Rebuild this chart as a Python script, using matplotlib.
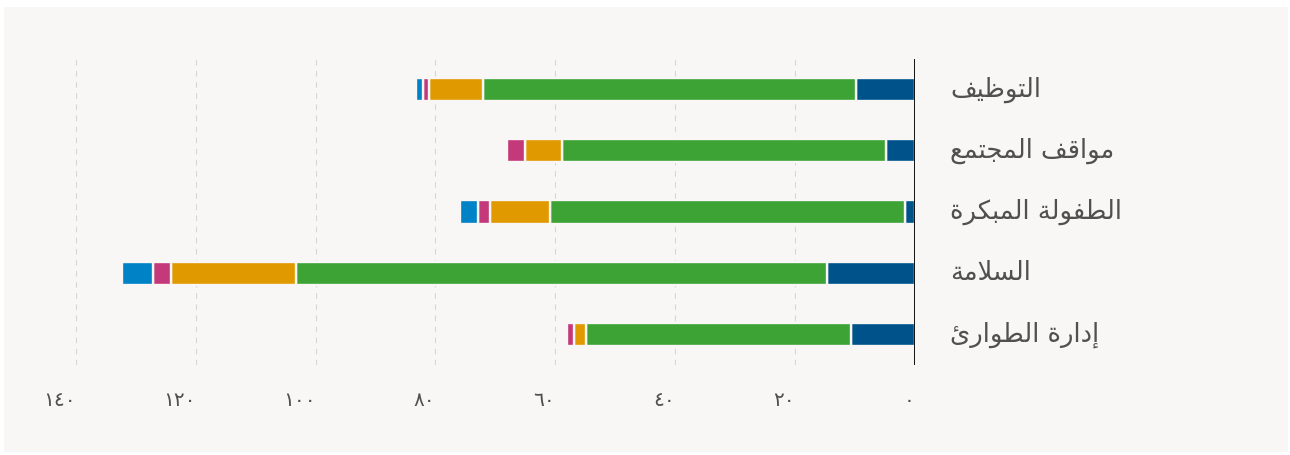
import matplotlib
matplotlib.use("Agg")
import matplotlib.pyplot as plt
import matplotlib.transforms as mtransforms
import numpy as np

# ---------------- data ----------------
categories = ['التوظيف', 'مواقف المجتمع', 'الطفولة المبكرة', 'السلامة', 'إدارة الطوارئ']
series_dark_blue = [9.8, 4.8, 1.6, 14.7, 10.7]
series_green = [62.3, 54.1, 59.3, 88.5, 44.2]
series_orange = [9.0, 6.1, 9.9, 21.0, 2.0]
series_pink = [1.0, 3.0, 2.0, 3.0, 1.1]
series_light_blue = [1.1, 0.0, 3.1, 5.1, 0.0]
tick_values = [0, 20, 40, 60, 80, 100, 120, 140]

colors = ['#00538a', '#3da335', '#e09a00', '#c4397a', '#0083c6']
BG = '#f8f7f5'
TXT = '#505050'

# ---------------- minimal Arabic shaping (matplotlib has no shaping) ----------------
FORMS = {
    'ء': ('\uFE80', None, None, None),
    'آ': ('\uFE81', '\uFE82', None, None),
    'أ': ('\uFE83', '\uFE84', None, None),
    'ؤ': ('\uFE85', '\uFE86', None, None),
    'إ': ('\uFE87', '\uFE88', None, None),
    'ئ': ('\uFE89', '\uFE8A', '\uFE8B', '\uFE8C'),
    'ا': ('\uFE8D', '\uFE8E', None, None),
    'ب': ('\uFE8F', '\uFE90', '\uFE91', '\uFE92'),
    'ة': ('\uFE93', '\uFE94', None, None),
    'ت': ('\uFE95', '\uFE96', '\uFE97', '\uFE98'),
    'ج': ('\uFE9D', '\uFE9E', '\uFE9F', '\uFEA0'),
    'د': ('\uFEA9', '\uFEAA', None, None),
    'ر': ('\uFEAD', '\uFEAE', None, None),
    'س': ('\uFEB1', '\uFEB2', '\uFEB3', '\uFEB4'),
    'ط': ('\uFEC1', '\uFEC2', '\uFEC3', '\uFEC4'),
    'ظ': ('\uFEC5', '\uFEC6', '\uFEC7', '\uFEC8'),
    'ع': ('\uFEC9', '\uFECA', '\uFECB', '\uFECC'),
    'ف': ('\uFED1', '\uFED2', '\uFED3', '\uFED4'),
    'ق': ('\uFED5', '\uFED6', '\uFED7', '\uFED8'),
    'ك': ('\uFED9', '\uFEDA', '\uFEDB', '\uFEDC'),
    'ل': ('\uFEDD', '\uFEDE', '\uFEDF', '\uFEE0'),
    'م': ('\uFEE1', '\uFEE2', '\uFEE3', '\uFEE4'),
    'و': ('\uFEED', '\uFEEE', None, None),
    'ي': ('\uFEF1', '\uFEF2', '\uFEF3', '\uFEF4'),
}
LAM_ALEF = {'ا': ('\uFEFB', '\uFEFC'), 'أ': ('\uFEF7', '\uFEF8'),
            'إ': ('\uFEF9', '\uFEFA'), 'آ': ('\uFEF5', '\uFEF6')}


def shape(s):
    toks = []
    i = 0
    while i < len(s):
        c = s[i]
        if c == 'ل' and i + 1 < len(s) and s[i + 1] in LAM_ALEF:
            toks.append(('LA', s[i + 1]))
            i += 2
        else:
            toks.append(('C', c))
            i += 1

    def joins_left(t):
        return t[0] == 'C' and t[1] in FORMS and FORMS[t[1]][2] is not None

    def is_ar(t):
        return t[0] == 'LA' or t[1] in FORMS

    out = []
    for k, (kind, c) in enumerate(toks):
        prev = toks[k - 1] if k > 0 else None
        nxt = toks[k + 1] if k + 1 < len(toks) else None
        pj = prev is not None and joins_left(prev)
        if kind == 'LA':
            out.append(LAM_ALEF[c][1 if pj else 0])
            continue
        if c not in FORMS:
            out.append(c)
            continue
        f = FORMS[c]
        if f[1] is None:
            pj = False
        nj = f[2] is not None and nxt is not None and is_ar(nxt)
        if pj and nj:
            out.append(f[3])
        elif pj:
            out.append(f[1])
        elif nj:
            out.append(f[2])
        else:
            out.append(f[0])
    return ''.join(reversed(out))


AR_DIGITS = str.maketrans('0123456789', '٠١٢٣٤٥٦٧٨٩')

# ---------------- figure ----------------
plt.rcParams['font.family'] = ['DejaVu Sans']
fig = plt.figure(figsize=(12.9, 4.55), dpi=100, facecolor='white')
fig.patches.append(plt.Rectangle((4 / 1290, 3 / 455), 1284 / 1290, 445 / 455,
                                 transform=fig.transFigure, facecolor=BG,
                                 edgecolor='none', zorder=-10))

ax = fig.add_axes([40 / 1290, 90 / 455, 874.6 / 1290, 306 / 455])
ax.patch.set_alpha(0)

y = np.arange(len(categories))
stack = [series_dark_blue, series_green, series_orange, series_pink, series_light_blue]
left = np.zeros(len(categories))
for vals, col in zip(stack, colors):
    v = np.array(vals, dtype=float)
    mask = v > 0
    ax.barh(y[mask], v[mask], left=left[mask], height=0.38, color=col,
            edgecolor=BG, linewidth=1.7, zorder=3)
    left += v

ax.set_xlim(146, 0)
ax.set_ylim(len(categories) - 0.5, -0.5)

for t in tick_values:
    if t != 0:
        ax.axvline(t, color='#d6d6d6', lw=0.8, linestyle=(0, (5, 5)), zorder=1)
ax.axvline(0, color='#111111', lw=1.4, zorder=5)

ax.set_xticks(tick_values)
ax.set_xticklabels([])
ax.tick_params(axis='x', length=0)
ax.set_yticks([])
for s in ax.spines.values():
    s.set_visible(False)

# x tick labels (Arabic-Indic digits), right-aligned at the tick
xt = mtransforms.blended_transform_factory(ax.transData, fig.transFigure)
for t in tick_values:
    ax.text(t, (455 - 401) / 455, str(t).translate(AR_DIGITS), transform=xt,
            ha='right', va='center', fontsize=14.5, color=TXT)

# category labels on the right
lt = mtransforms.blended_transform_factory(fig.transFigure, ax.transData)
for yi, cat in zip(y, categories):
    ax.text(950 / 1290, yi, shape(cat), transform=lt,
            ha='left', va='center', fontsize=18.5, color=TXT)

fig.savefig('out.png', dpi=100, facecolor='white')
